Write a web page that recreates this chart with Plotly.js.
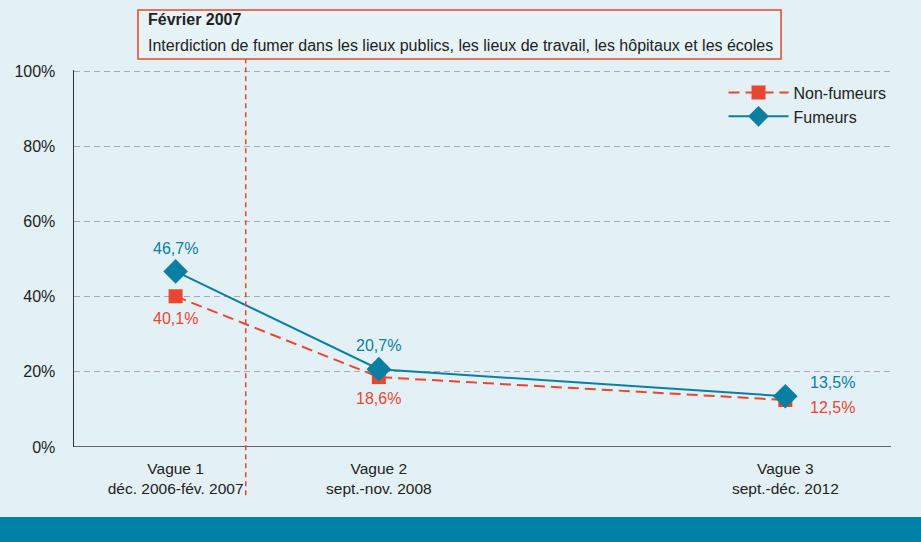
<!DOCTYPE html>
<html>
<head>
<meta charset="utf-8">
<script src="https://cdn.plot.ly/plotly-3.0.1.min.js"></script>
<style>
  html, body { margin: 0; padding: 0; background: #e3f1f6; }
  #myDiv { width: 921px; height: 542px; }
</style>
</head>
<body>
<div id="myDiv"></div>
<script>
// Enquête : vagues et positions sur l'axe
var vagues = ['Vague 1<br>déc. 2006-fév. 2007', 'Vague 2<br>sept.-nov. 2008', 'Vague 3<br>sept.-déc. 2012'];
var xVague = [1, 2, 4];
var nonFumeurs = [40.1, 18.6, 12.5];
var fumeurs = [46.7, 20.7, 13.5];
var yTicks = [0, 20, 40, 60, 80, 100];
var yTickText = ['0%', '20%', '40%', '60%', '80%', '100%'];
var xInterdiction = 1.345;

function fmt(v){
  return v.toFixed(1).replace('.', ',') + '%';
}

var police = 'Liberation Sans, Arial, sans-serif';
var rouge = '#e8462f';
var bleu = '#0a7fa2';
var texte = '#222222';

var trace1 = {
  x: xVague,
  y: nonFumeurs,
  name: 'Non-fumeurs',
  type: 'scatter',
  mode: 'lines+markers',
  line: {color: rouge, width: 2, dash: '11px,6px'},
  marker: {symbol: 'square', size: 14, color: rouge},
  cliponaxis: false
};

var trace2 = {
  x: xVague,
  y: fumeurs,
  name: 'Fumeurs',
  type: 'scatter',
  mode: 'lines+markers',
  line: {color: bleu, width: 2},
  marker: {symbol: 'diamond', size: 19, color: bleu},
  cliponaxis: false
};

var data = [trace1, trace2];

// étiquettes des valeurs (décalages en pixels)
var decalBleu = [[0, 23, 'center'], [0, 24, 'center'], [23, 14, 'left']];
var decalRouge = [[0, -22, 'center'], [0, -21, 'center'], [23, -7, 'left']];
var etiquettes = [];
for (var i = 0; i < xVague.length; i++) {
  etiquettes.push({
    x: xVague[i], y: fumeurs[i], xref: 'x', yref: 'y',
    text: fmt(fumeurs[i]), showarrow: false,
    xshift: decalBleu[i][0], yshift: decalBleu[i][1], xanchor: decalBleu[i][2], yanchor: 'middle',
    font: {size: 16, color: bleu}
  });
  etiquettes.push({
    x: xVague[i], y: nonFumeurs[i], xref: 'x', yref: 'y',
    text: fmt(nonFumeurs[i]), showarrow: false,
    xshift: decalRouge[i][0], yshift: decalRouge[i][1], xanchor: decalRouge[i][2], yanchor: 'middle',
    font: {size: 16, color: rouge}
  });
}

var layout = {
  width: 921,
  height: 542,
  margin: {l: 74, r: 30, t: 70, b: 95, pad: 0},
  paper_bgcolor: '#e3f1f6',
  plot_bgcolor: '#e3f1f6',
  font: {family: police, size: 16, color: texte},
  showlegend: true,
  legend: {
    x: 0.795, y: 0.985, xanchor: 'left', yanchor: 'top',
    bgcolor: 'rgba(0,0,0,0)',
    font: {size: 16, color: texte},
    itemwidth: 60
  },
  xaxis: {
    range: [0.5, 4.52],
    tickvals: xVague,
    ticktext: vagues,
    showgrid: false,
    zeroline: false,
    showline: false,
    ticks: 'outside',
    ticklen: 7,
    tickcolor: 'rgba(0,0,0,0)',
    tickfont: {size: 15.5, color: texte},
    fixedrange: true
  },
  yaxis: {
    range: [0, 100.3],
    tickvals: yTicks,
    ticktext: yTickText,
    showgrid: true,
    gridcolor: '#a9a9a9',
    griddash: '6px,4px',
    gridwidth: 1,
    zeroline: false,
    showline: true,
    linecolor: '#333333',
    linewidth: 1.5,
    ticks: 'outside',
    ticklen: 14,
    tickcolor: 'rgba(0,0,0,0)',
    tickfont: {size: 16, color: texte},
    fixedrange: true
  },
  shapes: [
    // axe horizontal
    {type: 'line', xref: 'paper', yref: 'y', x0: 0, x1: 1, y0: 0, y1: 0,
     line: {color: '#333333', width: 1.5}},
    // bande du bas
    {type: 'rect', xref: 'paper', yref: 'paper', x0: -0.1, x1: 1.05, y0: -0.186, y1: -0.26,
     fillcolor: '#0082a6', line: {width: 0}},
    // encadré
    {type: 'rect', xref: 'paper', yref: 'paper', x0: 0.0783, x1: 0.8654, y0: 1.029, y1: 1.159,
     fillcolor: '#e6f3f7', line: {color: rouge, width: 1.5}},
    // date de l'interdiction
    {type: 'line', xref: 'x', yref: 'paper', x0: xInterdiction, x1: xInterdiction, y0: -0.128, y1: 1.029,
     line: {color: rouge, width: 1.5, dash: '5px,4px'}}
  ],
  annotations: [
    {xref: 'paper', yref: 'paper', x: 0.088, y: 1.133, xanchor: 'left', yanchor: 'middle',
     text: '<b>Février 2007</b>', showarrow: false, font: {size: 16, color: texte}},
    {xref: 'paper', yref: 'paper', x: 0.088, y: 1.066, xanchor: 'left', yanchor: 'middle',
     text: 'Interdiction de fumer dans les lieux publics, les lieux de travail, les hôpitaux et les écoles',
     showarrow: false, font: {size: 16, color: texte}}
  ].concat(etiquettes)
};

Plotly.newPlot('myDiv', data, layout, {displayModeBar: false, staticPlot: true});
</script>
</body>
</html>
